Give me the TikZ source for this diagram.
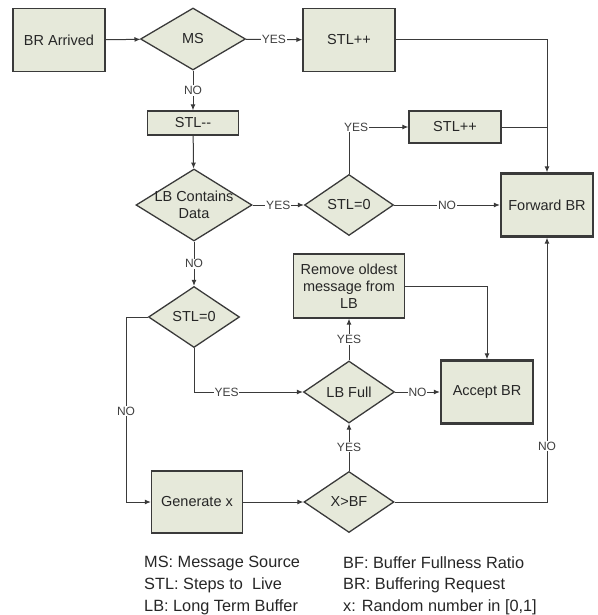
\documentclass[tikz,border=0pt]{standalone}
\usepackage{fontspec}
\setmainfont{Liberation Sans}
\usetikzlibrary{shapes.geometric,arrows.meta}
\definecolor{boxfill}{HTML}{E6E9DA}
\definecolor{edge}{HTML}{3A3A3A}
\tikzset{
  procbox/.style={rectangle,draw=edge,fill=boxfill,line width=1.3pt,inner sep=0pt,font=\fontsize{14.5}{17}\selectfont,align=center,text=black!85},
  endbox/.style={procbox,line width=2.3pt},
  decide/.style={diamond,draw=edge,fill=boxfill,line width=1.3pt,inner sep=0pt},
  dtext/.style={font=\fontsize{14.5}{17}\selectfont,align=center,text=black!85},
  conn/.style={draw=edge,line width=1pt},
  arr/.style={conn,-{Latex[length=6pt,width=5pt]}},
  lab/.style={fill=white,inner sep=0.8pt,font=\fontsize{12}{14}\selectfont,text=black!75},
  legend/.style={anchor=west,inner sep=0pt,font=\fontsize{16.3}{20}\selectfont,text=black!85}
}
\begin{document}
\begin{tikzpicture}[x=1pt,y=-1pt]
\useasboundingbox (0,0) rectangle (597,615);
% nodes
\node[procbox,minimum width=92pt,minimum height=63pt] (br) at (59,40) {BR Arrived};
\node[decide,minimum width=105pt,minimum height=62pt] (ms) at (193,39) {};
\node[dtext] (mst) at (ms) {MS};
\node[procbox,minimum width=92pt,minimum height=63pt] (stla) at (349,40) {STL++};
\node[endbox,minimum width=92pt,minimum height=63pt] (fwd) at (547,205) {Forward BR};
\node[procbox,minimum width=92pt,minimum height=32pt] (stlb) at (455,127) {STL++};
\node[procbox,minimum width=91pt,minimum height=24pt] (stlm) at (193,123) {STL{-}{-}};
\node[decide,minimum width=116pt,minimum height=72pt] (lb) at (194,205) {};
\node[dtext] (lbt) at (lb) {LB Contains\\Data};
\node[decide,minimum width=89pt,minimum height=61pt] (zb) at (349,205) {};
\node[dtext] (zbt) at (zb) {STL=0};
\node[decide,minimum width=91pt,minimum height=61pt] (zc) at (194,317) {};
\node[dtext] (zct) at (zc) {STL=0};
\node[decide,minimum width=91pt,minimum height=62pt] (full) at (349,392) {};
\node[dtext] (fullt) at (full) {LB Full};
\node[procbox,minimum width=111pt,minimum height=64pt] (rem) at (349,286) {Remove oldest\\message from\\LB};
\node[endbox,minimum width=92pt,minimum height=63pt] (acc) at (487,392) {Accept BR};
\node[procbox,minimum width=91pt,minimum height=62pt] (gen) at (197,502) {Generate x};
\node[decide,minimum width=90pt,minimum height=61pt] (xbf) at (349,502) {};
\node[dtext] (xbft) at (xbf) {X>BF};
% connectors
\draw[arr] (br) -- (ms);
\draw[arr] (ms) -- node[lab]{YES} (stla);
\draw[arr] (ms) -- node[lab]{NO} (stlm);
\draw[arr] (stla.east) -| (fwd.north);
\draw[conn] (stlb.east) -- (stlb.east -| fwd.north);
\draw[arr] (stlm) -- (lb);
\draw[arr] (lb) -- node[lab]{YES} (zb);
\draw[arr] (zb.north) |- node[lab,pos=0.56]{YES} (stlb.west);
\draw[arr] (zb) -- node[lab]{NO} (fwd);
\draw[arr] (lb) -- node[lab]{NO} (zc);
\coordinate (cl) at (126,317);
\draw[arr] (zc.west) -- (cl) |- node[lab,pos=0.254]{NO} (gen.west);
\draw[arr] (zc.south) |- node[lab,pos=0.65]{YES} (full.west);
\draw[arr] (full) -- node[lab]{YES} (rem);
\draw[arr] (full) -- node[lab]{NO} (acc);
\draw[arr] (rem.east) -| (acc.north);
\draw[arr] (gen) -- (xbf);
\draw[arr] (xbf) -- node[lab]{YES} (full);
\draw[arr] (xbf.east) -| node[lab,pos=0.606]{NO} (fwd.south);
% legend
\node[legend] (l1) at (144,563) {MS: Message Source};
\node[legend] (l2) at (144,585) {STL: Steps to \ Live};
\node[legend] (l3) at (144,607) {LB: Long Term Buffer};
\node[legend] (l4) at (343,563) {BF: Buffer Fullness Ratio};
\node[legend] (l5) at (343,585) {BR: Buffering Request};
\node[legend] (l6) at (343,607) {x: Random number in [0,1]};
\end{tikzpicture}
\end{document}
